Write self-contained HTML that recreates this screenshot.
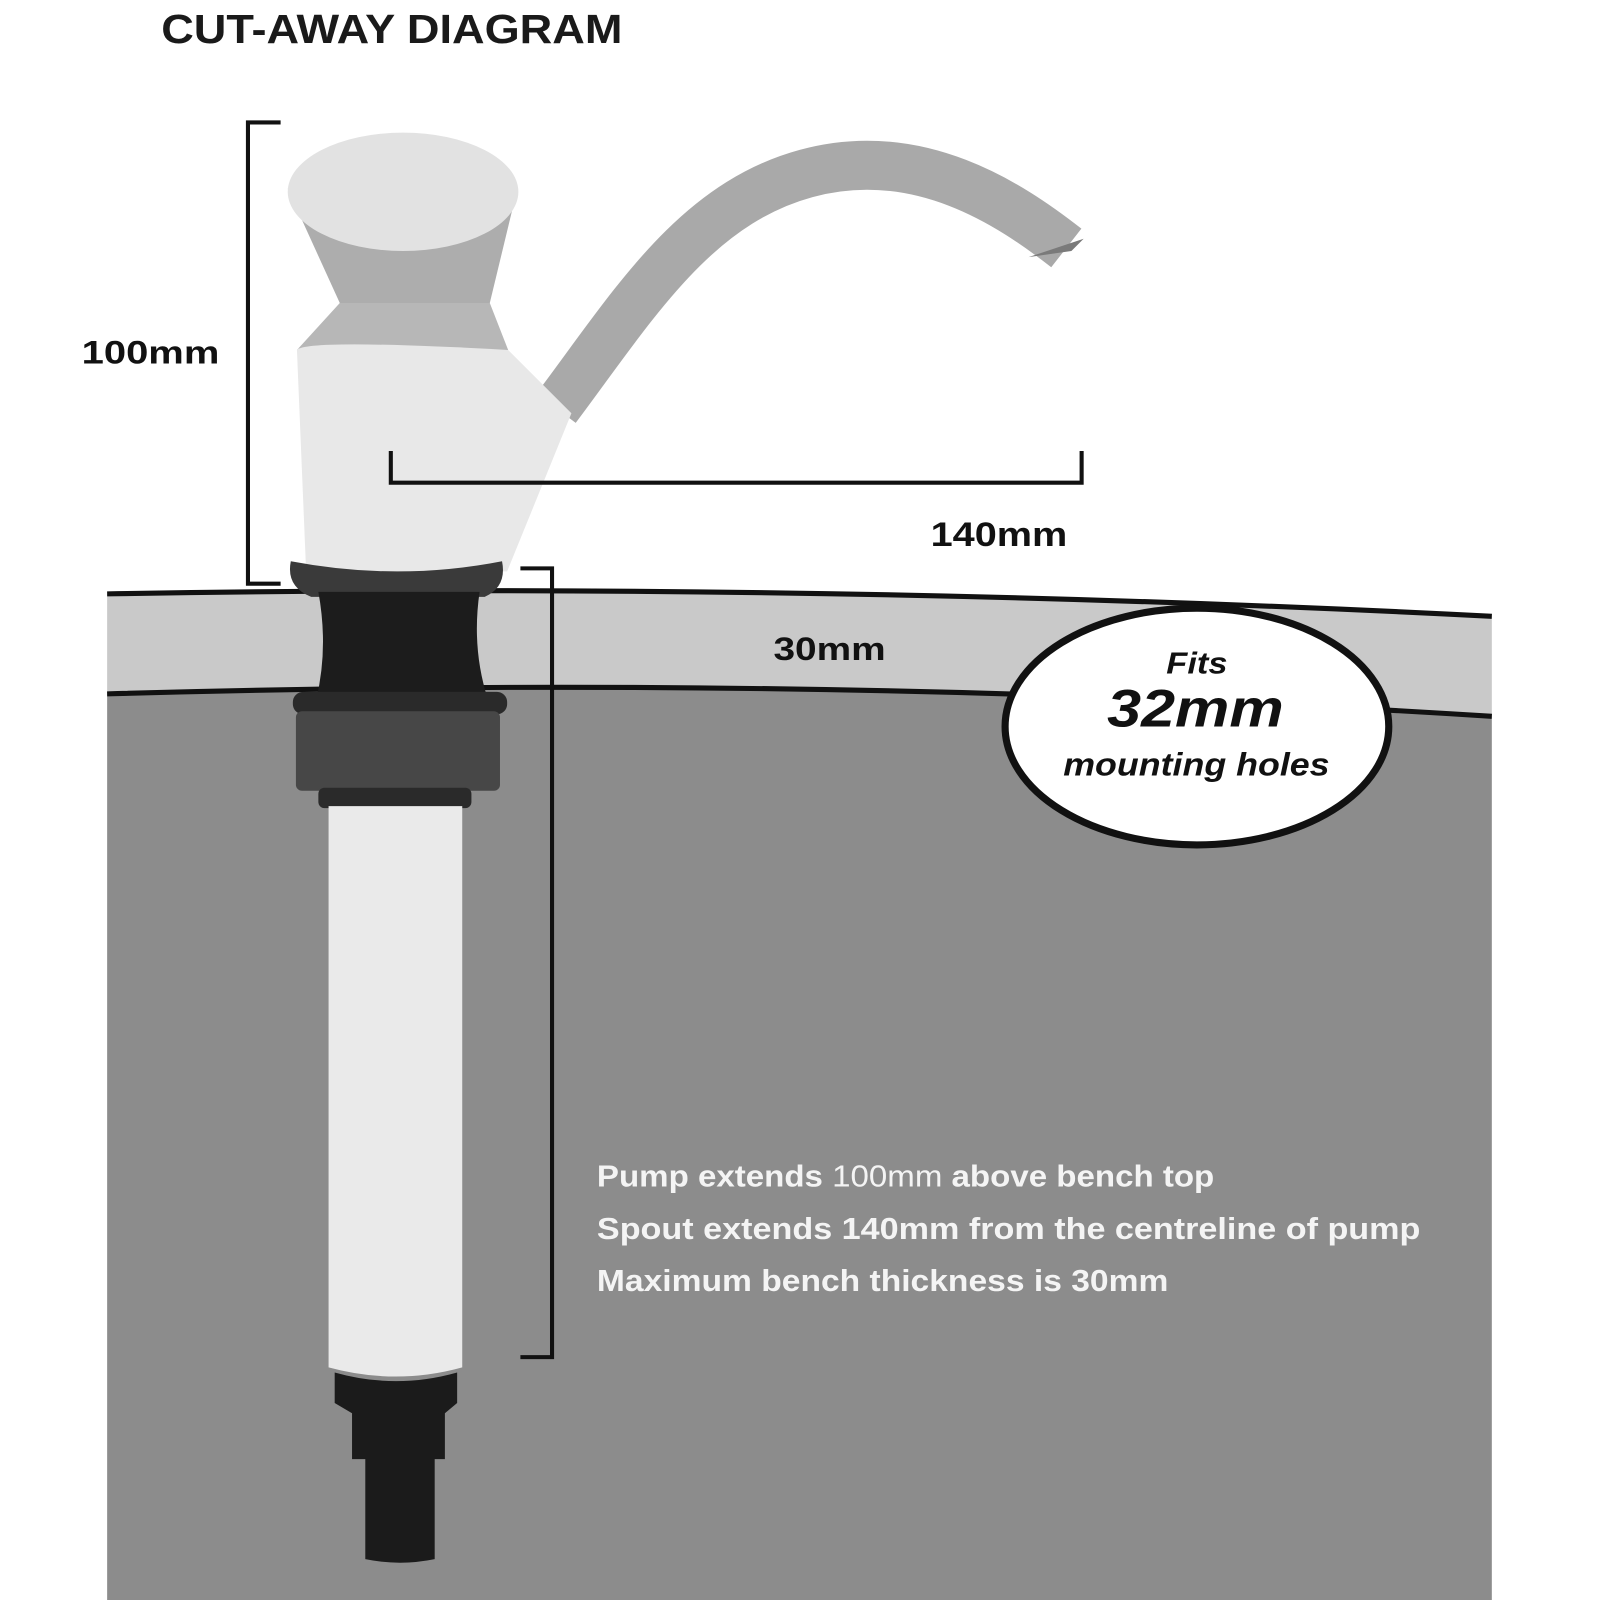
<!DOCTYPE html>
<html><head><meta charset="utf-8"><style>
html,body{margin:0;padding:0;background:#fff;}
svg{display:block;}
</style></head><body>
<svg width="1600" height="1600" viewBox="0 0 1600 1600" xmlns="http://www.w3.org/2000/svg" font-family="'Liberation Sans', sans-serif">
<rect width="1600" height="1600" fill="#fff"/>
<g transform="scale(1.0204)">
<text x="158" y="42" font-size="40" font-weight="bold" fill="#1a1a1a" textLength="452" lengthAdjust="spacingAndGlyphs">CUT-AWAY DIAGRAM</text>

<!-- underside gray -->
<path d="M105,678 Q800,660 1462,702 L1462,1570 L105,1570 Z" fill="#8c8c8c"/>
<!-- bench -->
<path d="M105,582 Q800,570 1462,604 L1462,702 Q800,660 105,680 Z" fill="#c9c9c9"/>
<path d="M105,582 Q800,570 1462,604" fill="none" stroke="#111" stroke-width="5"/>
<path d="M105,680 Q800,660 1462,702" fill="none" stroke="#111" stroke-width="5"/>

<!-- spout -->
<path d="M545,400 C620,300 680,200 790,170 C900,140 990,200 1045,243" fill="none" stroke="#a9a9a9" stroke-width="48"/>
<path d="M1008,252 L1062,234 L1050,246 Z" fill="#7a7a7a"/>
<!-- knob -->
<path d="M282,185 L333,297 L480,297 L507,185 Z" fill="#adadad"/>
<ellipse cx="395" cy="188" rx="113" ry="58" fill="#e2e2e2"/>
<path d="M333,297 L291,343 L498,343 L480,297 Z" fill="#b7b7b7"/>
<!-- body -->
<path d="M291,343 Q300,332 498,343 L560,405 L497,560 L300,560 Z" fill="#e8e8e8"/>

<!-- collar & nuts -->
<path d="M285,550 Q280,575 305,585 L475,585 Q497,575 492,550 Q390,570 285,550 Z" fill="#3a3a3a"/>
<path d="M312,580 L470,580 Q462,635 478,685 L310,685 Q322,635 312,580 Z" fill="#1c1c1c"/>
<rect x="287" y="678" width="210" height="22" rx="10" fill="#2a2a2a"/>
<rect x="290" y="697" width="200" height="78" rx="6" fill="#474747"/>
<rect x="312" y="772" width="150" height="20" rx="6" fill="#2a2a2a"/>
<!-- tube -->
<path d="M322,790 L453,790 L453,1340 Q388,1358 322,1340 Z" fill="#eaeaea"/>
<path d="M328,1345 Q388,1362 448,1345 L448,1375 L436,1385 L436,1430 L426,1430 L426,1528 Q392,1535 358,1528 L358,1430 L345,1430 L345,1385 L328,1375 Z" fill="#1b1b1b"/>

<!-- dimension brackets -->
<path d="M275,120 L243,120 L243,572 L275,572" fill="none" stroke="#111" stroke-width="4"/>
<path d="M510,557 L541,557 L541,1330 L510,1330" fill="none" stroke="#111" stroke-width="4"/>
<path d="M383,442 L383,473 L1060,473 L1060,442" fill="none" stroke="#111" stroke-width="4"/>

<text x="80" y="356" font-size="32" font-weight="bold" fill="#111" textLength="135" lengthAdjust="spacingAndGlyphs">100mm</text>
<text x="912" y="535" font-size="34" font-weight="bold" fill="#111" textLength="134" lengthAdjust="spacingAndGlyphs">140mm</text>
<text x="758" y="647" font-size="32" font-weight="bold" fill="#111" textLength="110" lengthAdjust="spacingAndGlyphs">30mm</text>

<!-- ellipse callout -->
<ellipse cx="1173" cy="712" rx="188" ry="116" fill="#fff" stroke="#111" stroke-width="7"/>
<text x="1143" y="660" font-size="30" font-weight="bold" font-style="italic" fill="#111" textLength="60" lengthAdjust="spacingAndGlyphs">Fits</text>
<text x="1085" y="712" font-size="52" font-weight="bold" font-style="italic" fill="#111" textLength="173" lengthAdjust="spacingAndGlyphs">32mm</text>
<text x="1042" y="760" font-size="32" font-weight="bold" font-style="italic" fill="#111" textLength="261" lengthAdjust="spacingAndGlyphs">mounting holes</text>

<!-- info text -->
<g font-size="30" font-weight="bold" fill="#f4f4f4">
<text x="585" y="1163" textLength="605" lengthAdjust="spacingAndGlyphs">Pump extends <tspan font-weight="normal">100mm</tspan> above bench top</text>
<text x="585" y="1214" textLength="807" lengthAdjust="spacingAndGlyphs">Spout extends 140mm from the centreline of pump</text>
<text x="585" y="1265" textLength="560" lengthAdjust="spacingAndGlyphs">Maximum bench thickness is 30mm</text>
</g>
</g>
</svg>
</body></html>
